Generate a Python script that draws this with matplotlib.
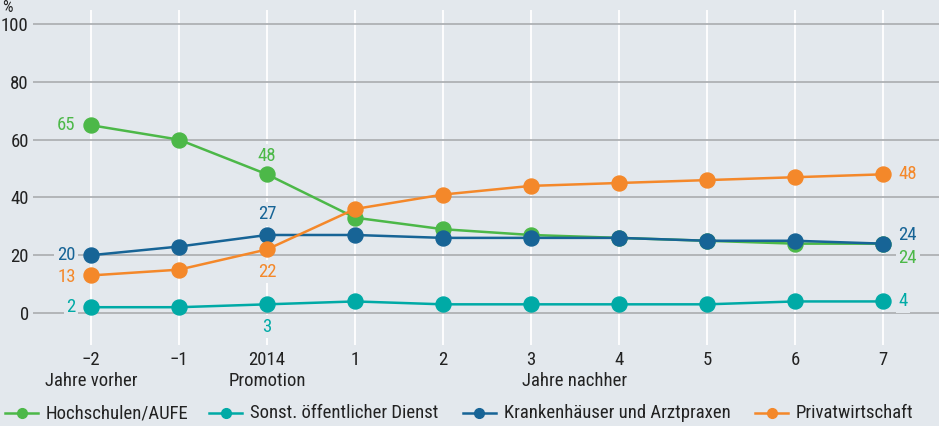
import matplotlib
matplotlib.use("Agg")
import matplotlib.pyplot as plt
from matplotlib.lines import Line2D
import numpy as np

plt.rcParams['font.family'] = ['Roboto Condensed', 'Fira Sans Condensed', 'DejaVu Sans']

years = ["\u22122", "\u22121", "2014", "1", "2", "3", "4", "5", "6", "7"]
hochschulen = [65, 60, 48, 33, 29, 27, 26, 25, 24, 24]
oeffentlich = [2, 2, 3, 4, 3, 3, 3, 3, 4, 4]
kranken = [20, 23, 27, 27, 26, 26, 26, 25, 25, 24]
privat = [13, 15, 22, 36, 41, 44, 45, 46, 47, 48]
names = ["Hochschulen/AUFE", "Sonst. öffentlicher Dienst",
         "Krankenhäuser und Arztpraxen", "Privatwirtschaft"]

bg = "#e3e8ed"
c_green = "#4cb848"
c_teal = "#00aaa6"
c_blue = "#176496"
c_orange = "#f4882a"
txtc = "#222222"
W, H = 939, 426

fig = plt.figure(figsize=(9.39, 4.26), dpi=100, facecolor=bg)
ax = fig.add_axes([0.0351, 0.190, 0.965, 0.786], facecolor=bg)
x = np.arange(len(years))

for v in [0, 20, 40, 60, 80, 100]:
    ax.axhline(v, color="#aeb1b4", lw=1.3, zorder=1)
for xi in x:
    ax.axvline(xi, color="white", lw=1.3, zorder=0)

series = [(hochschulen, c_green), (oeffentlich, c_teal), (kranken, c_blue), (privat, c_orange)]
# green drawn over blue where they meet at the right
order = [1, 3, 2, 0]
for i in order:
    vals, col = series[i]
    ax.plot(x, vals, color=col, lw=1.8, marker="o", markersize=10.8, zorder=3 + i * 0.1)

fs = 13.5
def lab(xi, yi, txt, col, dx, dy, ha):
    # small background box so the gridline breaks behind the number
    ax.annotate(txt, (xi, yi), xytext=(dx, dy), textcoords="offset points",
                ha=ha, va="center", color=col, fontsize=fs, zorder=2,
                bbox=dict(boxstyle="square,pad=0.15", fc=bg, ec="none"))

# left labels
lab(x[0], hochschulen[0], str(hochschulen[0]), c_green, -11, 0, "right")
lab(x[0], kranken[0], str(kranken[0]), c_blue, -11, 0, "right")
lab(x[0], privat[0], str(privat[0]), c_orange, -11, -1, "right")
lab(x[0], oeffentlich[0], str(oeffentlich[0]), c_teal, -11, 0, "right")
# 2014 labels
lab(x[2], hochschulen[2], str(hochschulen[2]), c_green, 0, 13, "center")
lab(x[2], kranken[2], str(kranken[2]), c_blue, 0, 15, "center")
lab(x[2], privat[2], str(privat[2]), c_orange, 0, -16, "center")
lab(x[2], oeffentlich[2], str(oeffentlich[2]), c_teal, 0, -16, "center")
# right labels
lab(x[-1], privat[-1], str(privat[-1]), c_orange, 11, 0, "left")
lab(x[-1], kranken[-1], str(kranken[-1]), c_blue, 11, 6, "left")
lab(x[-1], hochschulen[-1], str(hochschulen[-1]), c_green, 11, -10, "left")
lab(x[-1], oeffentlich[-1], str(oeffentlich[-1]), c_teal, 11, 0, "left")

ax.set_xlim(-0.659, 9.636)
ax.set_ylim(-11.1, 104.8)
ax.set_yticks([0, 20, 40, 60, 80, 100])
ax.set_yticklabels(["0", "20", "40", "60", "80", "100"], fontsize=fs, color=txtc)
ax.set_xticks(x)
ax.set_xticklabels(years, fontsize=fs, color=txtc)
ax.tick_params(length=0, axis="y", pad=3)
ax.tick_params(length=0, axis="x", pad=4)
for s in ax.spines.values():
    s.set_visible(False)

# second row of x labels
for xi, t in [(0, "Jahre vorher"), (2, "Promotion"), (5.5, "Jahre nachher")]:
    ax.text(xi, -0.08, t, transform=ax.get_xaxis_transform(), ha="center", va="top",
            fontsize=fs, color=txtc)

fig.text(0.002, 1.0, "%", fontsize=12, color=txtc, ha="left", va="top")

# legend row, laid out by hand (pixel positions of each entry)
leg_x = [5, 209, 463, 755]
leg_y = 1 - 413 / H
for i, px in enumerate(leg_x):
    col = series[i][1]
    fig.add_artist(Line2D([px / W, (px + 33) / W], [leg_y, leg_y], color=col, lw=1.8,
                          transform=fig.transFigure))
    fig.add_artist(Line2D([(px + 16.5) / W], [leg_y], color=col, marker="o", markersize=7,
                          transform=fig.transFigure))
    fig.text((px + 41) / W, leg_y, names[i], fontsize=fs, color=txtc, ha="left", va="center")

fig.savefig("out.png", dpi=100, facecolor=bg)
